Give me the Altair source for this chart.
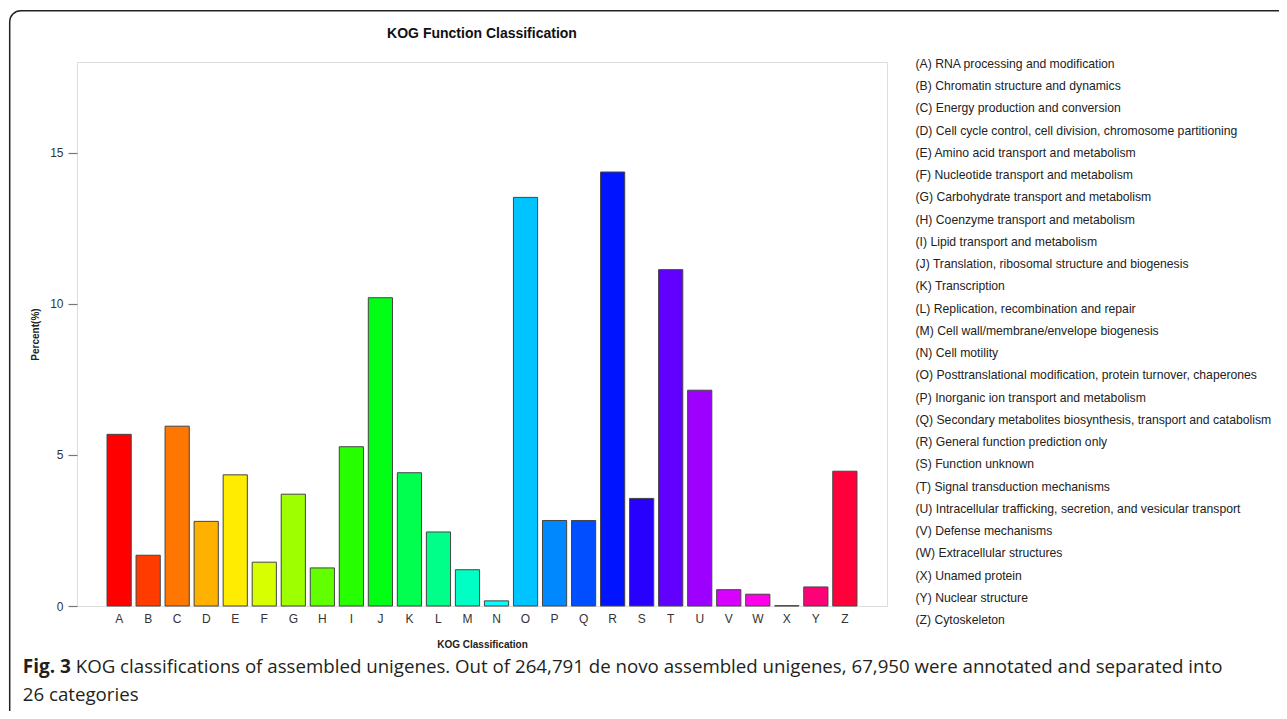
import altair as alt
import pandas as pd

letters = list("ABCDEFGHIJKLMNOPQRSTUVWXYZ")
descriptions = [
    "(A) RNA processing and modification",
    "(B) Chromatin structure and dynamics",
    "(C) Energy production and conversion",
    "(D) Cell cycle control, cell division, chromosome partitioning",
    "(E) Amino acid transport and metabolism",
    "(F) Nucleotide transport and metabolism",
    "(G) Carbohydrate transport and metabolism",
    "(H) Coenzyme transport and metabolism",
    "(I) Lipid transport and metabolism",
    "(J) Translation, ribosomal structure and biogenesis",
    "(K) Transcription",
    "(L) Replication, recombination and repair",
    "(M) Cell wall/membrane/envelope biogenesis",
    "(N) Cell motility",
    "(O) Posttranslational modification, protein turnover, chaperones",
    "(P) Inorganic ion transport and metabolism",
    "(Q) Secondary metabolites biosynthesis, transport and catabolism",
    "(R) General function prediction only",
    "(S) Function unknown",
    "(T) Signal transduction mechanisms",
    "(U) Intracellular trafficking, secretion, and vesicular transport",
    "(V) Defense mechanisms",
    "(W) Extracellular structures",
    "(X) Unamed protein",
    "(Y) Nuclear structure",
    "(Z) Cytoskeleton",
]
percent = [5.68, 1.68, 5.95, 2.80, 4.34, 1.45, 3.70, 1.26, 5.27, 10.20,
           4.41, 2.45, 1.20, 0.17, 13.52, 2.83, 2.83, 14.36, 3.56, 11.13,
           7.14, 0.54, 0.39, 0.01, 0.63, 4.46]
colors = ["#FF0000", "#FF3B00", "#FF7600", "#FFB100", "#FFEC00", "#D8FF00",
          "#9DFF00", "#62FF00", "#27FF00", "#00FF14", "#00FF4E", "#00FF89",
          "#00FFC4", "#00FFFF", "#00C4FF", "#0089FF", "#004EFF", "#0014FF",
          "#2700FF", "#6200FF", "#9D00FF", "#D800FF", "#FF00EB", "#FF00B1",
          "#FF0076", "#FF003B"]
y_ticks = [0, 5, 10, 15]

chart_title = "KOG Function Classification"
x_title = "KOG Classification"
y_title = "Percent(%)"
caption_bold = "Fig. 3"
caption_line1 = ("KOG classifications of assembled unigenes. Out of 264,791 de novo "
                 "assembled unigenes, 67,950 were annotated and separated into")
caption_line2 = "26 categories"

FONT = "Liberation Sans, Arial, Helvetica, sans-serif"
CAP_FONT = "Open Sans, Noto Sans, sans-serif"

df = pd.DataFrame({"letter": letters, "percent": percent, "desc": descriptions})

bars = alt.Chart(df).mark_bar(stroke="#444444", strokeWidth=1).encode(
    x=alt.X("letter:N", sort=letters,
            scale=alt.Scale(paddingInner=0.1667, paddingOuter=1, range=[1, 809]),
            axis=alt.Axis(title=x_title, labelAngle=0, ticks=False, domain=False,
                          labelPadding=7, labelFontSize=12, labelColor="#333333",
                          labelFont=FONT, titleFont=FONT, titleFontSize=10,
                          titleFontWeight="bold", titleColor="#222222",
                          titlePadding=15)),
    y=alt.Y("percent:Q", scale=alt.Scale(domain=[0, 18], nice=False, zero=True),
            axis=alt.Axis(title=y_title, values=y_ticks, grid=False, domain=False,
                          tickSize=9, tickColor="#777777", tickWidth=1.2,
                          labelPadding=5, labelFontSize=12, labelColor="#333333",
                          labelFont=FONT, titleFont=FONT, titleFontSize=10,
                          titleFontWeight="bold", titleColor="#222222",
                          titlePadding=9)),
    color=alt.Color("letter:N", scale=alt.Scale(domain=letters, range=colors),
                    legend=None),
)

legend_text = alt.Chart(df).mark_text(
    align="left", baseline="middle", fontSize=12.2, font=FONT, color="#222222"
).encode(
    x=alt.value(838.5),
    y=alt.Y("desc:N", sort=descriptions,
            scale=alt.Scale(type="point", range=[2, 558], padding=0), axis=None),
    text="desc:N",
)

one = pd.DataFrame({"k": [0]})

border = alt.Chart(one).mark_rect(
    fill="white", fillOpacity=0, stroke="#222222", strokeWidth=1.5, cornerRadius=11
).encode(
    x=alt.value(-67.3), x2=alt.value(1400), y=alt.value(-51.3), y2=alt.value(900)
)

title_df = pd.DataFrame({"t": [chart_title]})
cap_df1 = pd.DataFrame({"t": [caption_bold]})
cap_df2 = pd.DataFrame({"t": [caption_line1]})
cap_df3 = pd.DataFrame({"t": [caption_line2]})

title_mark = alt.Chart(title_df).mark_text(
    align="center", baseline="alphabetic", fontSize=14, font=FONT,
    fontWeight="bold", color="#111111"
).encode(x=alt.value(405), y=alt.value(-24), text="t:N")

cap_bold = alt.Chart(cap_df1).mark_text(
    align="left", baseline="alphabetic", fontSize=19, font=CAP_FONT,
    fontWeight="bold", color="#231F20"
).encode(x=alt.value(-54.3), y=alt.value(611), text="t:N")

cap_1 = alt.Chart(cap_df2).mark_text(
    align="left", baseline="alphabetic", fontSize=18.7, font=CAP_FONT,
    color="#231F20"
).encode(x=alt.value(-1.3), y=alt.value(611), text="t:N")

cap_2 = alt.Chart(cap_df3).mark_text(
    align="left", baseline="alphabetic", fontSize=18.7, font=CAP_FONT,
    color="#231F20"
).encode(x=alt.value(-54.3), y=alt.value(639), text="t:N")

chart = alt.layer(border, bars, legend_text, title_mark, cap_bold, cap_1,
                  cap_2).resolve_scale(
    y="independent"
).properties(
    width=810,
    height=544,
    autosize=alt.AutoSizeParams(type="none"),
    padding={"left": 69, "top": 54, "right": 392, "bottom": 105},
).configure_view(
    stroke="#777777", strokeWidth=1.5
).configure(
    background="white"
)

chart.save("out.html", embed_options={"renderer": "svg", "actions": False})
